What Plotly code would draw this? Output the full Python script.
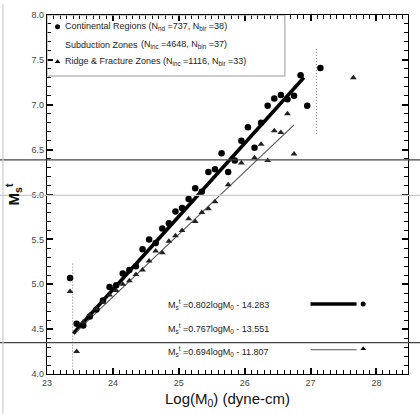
import plotly.graph_objects as go

# ---- data ----
cont_x = [23.35, 23.45, 23.55, 23.65, 23.75, 23.85, 23.95, 24.05, 24.15, 24.25,
          24.35, 24.45, 24.55, 24.65, 24.75, 24.85, 24.95, 25.05, 25.15, 25.25,
          25.35, 25.45, 25.55, 25.65, 25.75, 25.85, 25.95, 26.05, 26.15, 26.25,
          26.35, 26.45, 26.55, 26.65, 26.75, 26.85, 26.95, 27.15]
cont_y = [5.07, 4.56, 4.54, 4.64, 4.72, 4.82, 4.97, 4.99, 5.12, 5.16,
          5.20, 5.39, 5.50, 5.46, 5.62, 5.68, 5.81, 5.85, 5.95, 6.07,
          6.03, 6.25, 6.28, 6.46, 6.25, 6.38, 6.60, 6.75, 6.52, 6.80,
          6.99, 7.07, 7.11, 7.06, 7.10, 7.33, 6.99, 7.41]

ridge_x = [23.35, 23.45, 23.55, 23.65, 23.75, 23.85, 23.95, 24.05, 24.15, 24.25,
           24.35, 24.45, 24.55, 24.65, 24.75, 24.85, 24.95, 25.05, 25.15, 25.25,
           25.35, 25.45, 25.55, 25.75, 25.95, 26.15, 26.25, 26.35, 26.45, 26.55,
           26.65, 26.75, 27.65]
ridge_y = [4.92, 4.25, 4.58, 4.66, 4.73, 4.80, 4.88, 4.93, 5.00, 5.04,
           5.11, 5.16, 5.26, 5.37, 5.35, 5.48, 5.54, 5.60, 5.73, 5.70,
           5.80, 5.84, 5.92, 6.11, 6.35, 6.41, 6.56, 6.38, 6.71, 6.69,
           6.90, 6.45, 7.30]

fit_labels = ["0.802logM<sub>0</sub> - 14.283",
              "0.767logM<sub>0</sub> - 13.551",
              "0.694logM<sub>0</sub> - 11.807"]
cont_fit = dict(slope=0.815, intercept=-14.62, x0=23.4, x1=26.9)
ridge_fit = dict(slope=0.697, intercept=-11.87, x0=23.45, x1=26.75)

range_x_left = [23.39, 23.39]
range_y_left = [5.23, 4.05]
range_x_right = [27.09, 27.09]
range_y_right = [7.62, 6.65]

FONT = "Liberation Sans, Arial, sans-serif"

fig = go.Figure()

for xs, ys in [(range_x_left, range_y_left), (range_x_right, range_y_right)]:
    fig.add_trace(go.Scatter(x=xs, y=ys, mode="lines",
                             line=dict(color="#777", width=1, dash="1px,2px"),
                             showlegend=False, hoverinfo="skip"))

for f, w, c in [(cont_fit, 3.5, "black"), (ridge_fit, 1.1, "#555")]:
    xs = [f["x0"], f["x1"]]
    ys = [f["slope"] * v + f["intercept"] for v in xs]
    fig.add_trace(go.Scatter(x=xs, y=ys, mode="lines",
                             line=dict(color=c, width=w),
                             showlegend=False, hoverinfo="skip"))

fig.add_trace(go.Scatter(x=cont_x, y=cont_y, mode="markers",
                         marker=dict(symbol="circle", size=6.5, color="black"),
                         showlegend=False))
fig.add_trace(go.Scatter(x=ridge_x, y=ridge_y, mode="markers",
                         marker=dict(symbol="triangle-up", size=6, color="#222"),
                         showlegend=False))

eq_y = [4.77, 4.51, 4.25]
for lab, yy in zip(fit_labels, eq_y):
    fig.add_annotation(x=24.80, y=yy, xref="x", yref="y", xanchor="left",
                       text="M<sub>s</sub><sup>t</sup> =" + lab, showarrow=False,
                       font=dict(family=FONT, size=9, color="#222"))
fig.add_shape(type="line", x0=27.0, x1=27.7, y0=4.78, y1=4.78, xref="x", yref="y",
              line=dict(color="black", width=3.5))
fig.add_shape(type="line", x0=27.0, x1=27.7, y0=4.27, y1=4.27, xref="x", yref="y",
              line=dict(color="#555", width=1.1))
fig.add_trace(go.Scatter(x=[27.8], y=[4.78], mode="markers",
                         marker=dict(symbol="circle", size=5, color="black"),
                         showlegend=False, hoverinfo="skip"))
fig.add_trace(go.Scatter(x=[27.8], y=[4.28], mode="markers",
                         marker=dict(symbol="triangle-up", size=5, color="black"),
                         showlegend=False, hoverinfo="skip"))

fig.add_shape(type="rect", x0=23.0, x1=26.61, y0=7.32, y1=8.0, xref="x", yref="y",
              line=dict(color="#bbb", width=1.5))
leg_rows = [7.87, 7.67, 7.48]
fig.add_trace(go.Scatter(x=[23.16], y=[leg_rows[0]], mode="markers",
                         marker=dict(symbol="circle", size=5, color="black"),
                         showlegend=False, hoverinfo="skip"))
fig.add_trace(go.Scatter(x=[23.16], y=[leg_rows[2]], mode="markers",
                         marker=dict(symbol="triangle-up", size=5, color="black"),
                         showlegend=False, hoverinfo="skip"))
leg_texts = [
    (23.24, leg_rows[0], "Continental Regions (N<sub>nd</sub> =737, N<sub>bir</sub> =38)"),
    (23.24, leg_rows[1], "Subduction Zones"),
    (24.40, leg_rows[1], "(N<sub>inc</sub> =4648, N<sub>bin</sub> =37)"),
    (23.24, leg_rows[2], "Ridge & Fracture Zones (N<sub>inc</sub> =1116, N<sub>bir</sub> =33)"),
]
for xx, yy, t in leg_texts:
    fig.add_annotation(x=xx, y=yy, xref="x", yref="y", xanchor="left", text=t,
                       showarrow=False, font=dict(family=FONT, size=9, color="#222"))

for yy, col, w in [(6.385, "#444", 1.2), (4.35, "#444", 1.2), (5.99, "#ccc", 1.2)]:
    fig.add_shape(type="line", x0=-0.131, x1=1.04, y0=yy, y1=yy, xref="paper", yref="y",
                  line=dict(color=col, width=w))
fig.add_shape(type="line", x0=-0.122, x1=-0.122, y0=-0.11, y1=1.03, xref="paper", yref="paper",
              line=dict(color="#ccc", width=1.2))

fig.update_xaxes(range=[23, 28.48], tickmode="linear", tick0=23, dtick=1,
                 ticks="inside", ticklen=6, tickwidth=1.5, tickcolor="#000000",
                 showline=True, linecolor="black", linewidth=1.2, mirror="allticks",
                 showgrid=False, zeroline=False,
                 tickfont=dict(family=FONT, size=9, color="#444"),
                 minor=dict(dtick=0.1, ticks="inside", ticklen=4, tickwidth=1.3,
                            tickcolor="#000000", showgrid=False),
                 title=dict(text="Log(M<sub>0</sub>) (dyne-cm)", standoff=6,
                            font=dict(family=FONT, size=15, color="#111")))
fig.update_yaxes(range=[4, 8], tickmode="linear", tick0=4, dtick=0.5, tickformat=".1f",
                 ticks="inside", ticklen=6, tickwidth=1.5, tickcolor="#000000",
                 showline=True, linecolor="black", linewidth=1.2, mirror="allticks",
                 showgrid=False, zeroline=False,
                 tickfont=dict(family=FONT, size=9, color="#444"),
                 minor=dict(dtick=0.1, ticks="inside", ticklen=4, tickwidth=1.3,
                            tickcolor="#000000", showgrid=False),
                 title=dict(text="<b>M<sub>s</sub><sup>t</sup></b>", standoff=8,
                            font=dict(family=FONT, size=15, color="#111")))

fig.update_layout(width=420, height=414, margin=dict(l=47, r=12, t=10, b=38),
                  paper_bgcolor="white", plot_bgcolor="white", showlegend=False)

fig.write_html("out.html")
